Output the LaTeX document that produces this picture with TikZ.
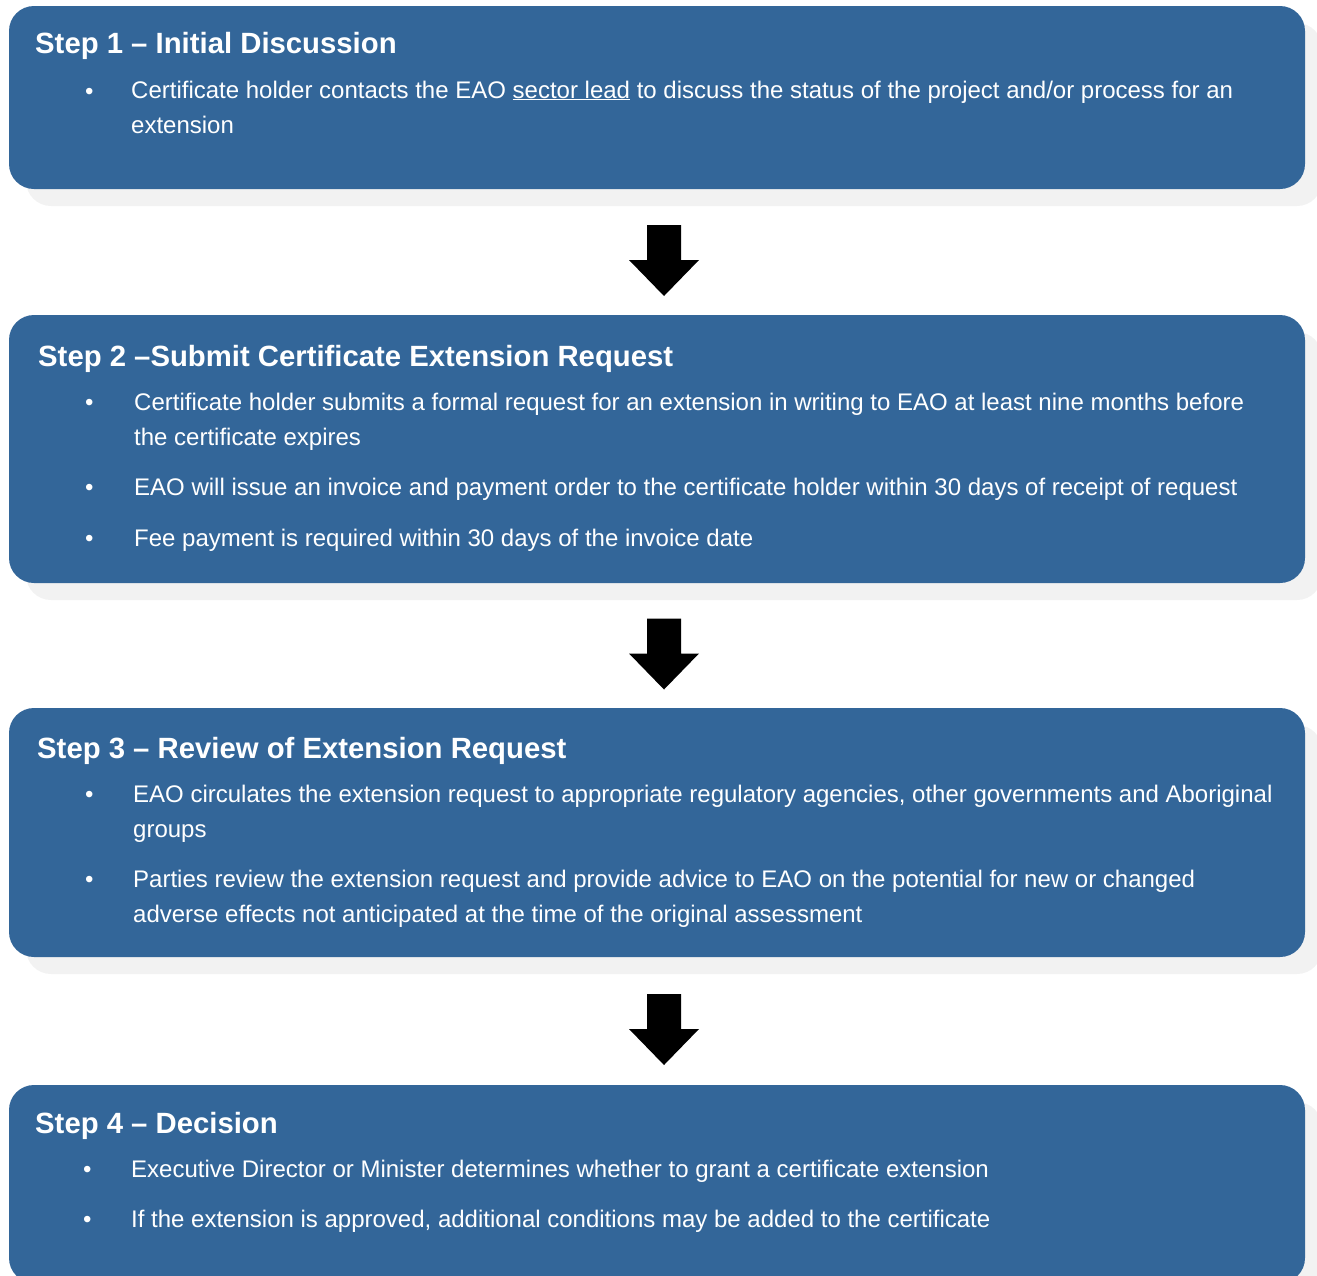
\documentclass[tikz,border=0pt]{standalone}
\usepackage{fontspec}
\setmainfont{Liberation Sans}
\usetikzlibrary{calc,shadows}
\definecolor{stepblue}{HTML}{336699}
\definecolor{shadowgray}{HTML}{F2F2F2}
\begin{document}
\begin{tikzpicture}[x=1pt,y=-1pt,
  stepbox/.style={fill=stepblue, draw=none, rounded corners=25pt, inner sep=0pt, outer sep=0pt,
    anchor=north west, minimum width=1296pt,
    drop shadow={shadow xshift=17pt, shadow yshift=-17pt, fill=shadowgray, opacity=1}},
  steptitle/.style={anchor=base west, inner sep=0pt, text=white,
    font=\fontsize{29.3}{34}\selectfont\bfseries},
  % multi-line text nodes are anchored at the baseline of their last line
  steptext/.style={anchor=base west, inner sep=0pt, text=white, align=left,
    font=\fontsize{24}{35}\selectfont},
  bulletmark/.style={anchor=base west, inner sep=0pt, text=white,
    font=\fontsize{24}{35}\selectfont},
  blockarrow/.style={fill=black, draw=none}
]
\useasboundingbox (0,0) rectangle (1317,1275);
\clip (0,0) rectangle (1317,1275);

% step boxes
\node[stepbox, minimum height=183pt] (b1) at (9,6) {};
\node[stepbox, minimum height=268pt] (b2) at (9,315) {};
\node[stepbox, minimum height=249pt] (b3) at (9,708) {};
\node[stepbox, minimum height=198pt] (b4) at (9,1085) {};

% step 1
\node[steptitle] (t1) at (35,53) {Step 1 – Initial Discussion};
\node[bulletmark] (d11) at (85,99) {•};
\node[steptext] (s11) at (131,133) {Certificate holder contacts the EAO \underline{sector lead} to discuss the status of the project and/or process for an\\extension};

% step 2
\node[steptitle] (t2) at (38,366) {Step 2 –Submit Certificate Extension Request};
\node[bulletmark] (d21) at (85,410) {•};
\node[steptext] (s21) at (134,445) {Certificate holder submits a formal request for an extension in writing to EAO at least nine months before\\the certificate expires};
\node[bulletmark] (d22) at (85,495) {•};
\node[steptext] (s22) at (134,495) {EAO will issue an invoice and payment order to the certificate holder within 30 days of receipt of request};
\node[bulletmark] (d23) at (85,546) {•};
\node[steptext] (s23) at (134,546) {Fee payment is required within 30 days of the invoice date};

% step 3
\node[steptitle] (t3) at (37,758) {Step 3 – Review of Extension Request};
\node[bulletmark] (d31) at (85,802) {•};
\node[steptext] (s31) at (133,837) {EAO circulates the extension request to appropriate regulatory agencies, other governments and Aboriginal\\groups};
\node[bulletmark] (d32) at (85,887) {•};
\node[steptext] (s32) at (133,922) {Parties review the extension request and provide advice to EAO on the potential for new or changed\\adverse effects not anticipated at the time of the original assessment};

% step 4
\node[steptitle] (t4) at (35,1133) {Step 4 – Decision};
\node[bulletmark] (d41) at (83,1177) {•};
\node[steptext] (s41) at (131,1177) {Executive Director or Minister determines whether to grant a certificate extension};
\node[bulletmark] (d42) at (83,1227) {•};
\node[steptext] (s42) at (131,1227) {If the extension is approved, additional conditions may be added to the certificate};

% block arrows between consecutive steps
\foreach \a/\b in {b1/b2, b2/b3, b3/b4} {
  \coordinate (m) at ($(\a.south)!0.5!(\b.north)+(7,8.5)$);
  \fill[blockarrow] ($(m)+(-17,-35.5)$) -- ($(m)+(17,-35.5)$) -- ($(m)+(17,-0.5)$)
    -- ($(m)+(35,-0.5)$) -- ($(m)+(0,35.5)$) -- ($(m)+(-35,-0.5)$) -- ($(m)+(-17,-0.5)$) -- cycle;
}
\end{tikzpicture}
\end{document}
